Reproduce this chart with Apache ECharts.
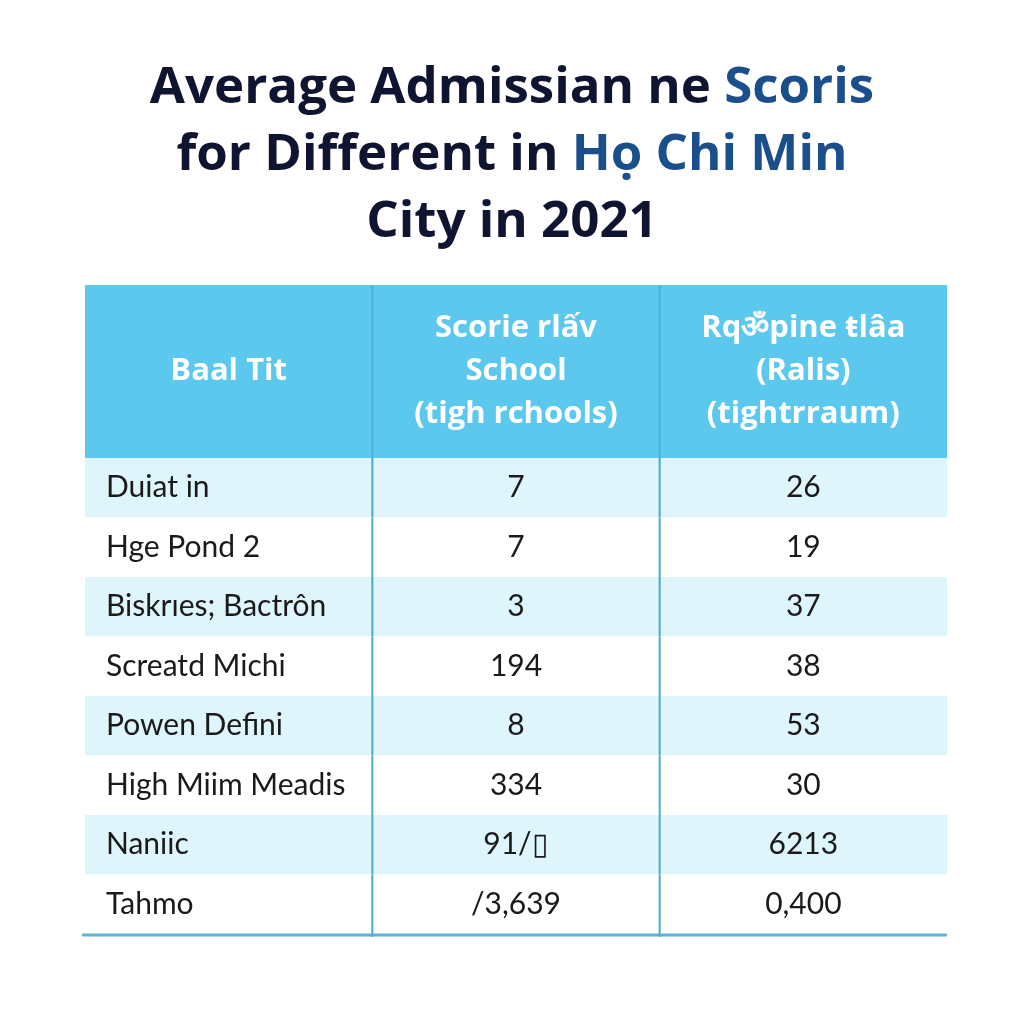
<!DOCTYPE html>
<html>
<head>
<meta charset="utf-8">
<script src="https://cdn.jsdelivr.net/npm/echarts@6/dist/echarts.min.js"></script>
<style>html,body{margin:0;padding:0;background:#fff;}#c{width:1024px;height:1024px;}</style>
</head>
<body>
<div id="c"></div>
<script>
// ---- data ----
var columnHeaders = ['Baal Tit', 'Scorie rlấv\nSchool\n(tigh rchools)', 'Rqॐpine ŧlâa\n(Ralis)\n(tightrraum)'];
var rowNames = ['Duiat in', 'Hge Pond 2', 'Biskrıes; Bactrôn', 'Screatd Michi', 'Powen Defini', 'High Miim Meadis', 'Naniic', 'Tahmo'];
var schoolValues = ['7', '7', '3', '194', '8', '334', '91/▯', '/3,639'];
var rankValues = ['26', '19', '37', '38', '53', '30', '6213', '0,400'];

var FONT = 'Lato, "Open Sans", sans-serif';
var HFONT = '"Open Sans", Lato, sans-serif';
var colKeys = ['c0', 'c1', 'c2'];

// header cells
var headerData = columnHeaders.map(function (t, i) { return [colKeys[i], 'h', t]; });
// body cells
var bodyData = [];
rowNames.forEach(function (name, r) {
  bodyData.push([colKeys[0], name, name, r]);
  bodyData.push([colKeys[1], name, schoolValues[r], r]);
  bodyData.push([colKeys[2], name, rankValues[r], r]);
});

function headerItem(params, api) {
  var c = api.coord([api.value(0), api.value(1)]);
  var s = api.size([1, 1]);
  var x0 = c[0] - s[0] / 2, y0 = c[1] - s[1] / 2;
  var col = params.dataIndex;
  var children = [
    { type: 'rect', shape: { x: x0, y: y0, width: s[0], height: s[1] }, style: { fill: '#5CC8EE' } },
    { type: 'text', style: { text: api.value(2), x: c[0], y: c[1], align: 'center', verticalAlign: 'middle',
      font: 'bold 31px ' + HFONT, fill: '#ffffff', lineHeight: 43 } }
  ];
  if (col > 0) children.push({ type: 'line', shape: { x1: x0, y1: y0, x2: x0, y2: y0 + s[1] }, style: { stroke: '#4AB3DC', lineWidth: 2 } });
  return { type: 'group', children: children };
}

function bodyItem(params, api) {
  var c = api.coord([api.value(0), api.value(1)]);
  var s = api.size([1, 1]);
  var x0 = c[0] - s[0] / 2, y0 = c[1] - s[1] / 2;
  var col = params.dataIndex % 3;
  var row = api.value(3);
  var children = [
    { type: 'rect', shape: { x: x0, y: y0, width: s[0], height: s[1] }, style: { fill: row % 2 === 0 ? '#DDF5FB' : '#ffffff' } }
  ];
  children.push({ type: 'text', style: { text: api.value(2), x: col === 0 ? x0 + 21 : c[0], y: c[1],
    align: col === 0 ? 'left' : 'center', verticalAlign: 'middle', font: '30px ' + FONT, fill: '#1a1a1a' } });
  if (col > 0) children.push({ type: 'line', shape: { x1: x0, y1: y0, x2: x0, y2: y0 + s[1] + (row === 7 ? 3 : 0) }, style: { stroke: '#4BAAC9', lineWidth: 2 } });
  if (row === 7) children.push({ type: 'line', shape: { x1: x0 - (col === 0 ? 3 : 0), y1: y0 + s[1] + 1, x2: x0 + s[0], y2: y0 + s[1] + 1 }, style: { stroke: '#5AB6D8', lineWidth: 3 } });
  return { type: 'group', children: children };
}

var chart = echarts.init(document.getElementById('c'));
chart.setOption({
  backgroundColor: '#ffffff',
  animation: false,
  title: {
    left: 'center', top: 50,
    text: '{a|Average Admissian ne }{b|Scoris}\n{a|for Different in }{b|Họ Chi Min}\n{a|City in 2021}',
    textStyle: {
      lineHeight: 67,
      rich: {
        a: { fontFamily: HFONT, fontWeight: 'bold', fontSize: 51, color: '#0F1431', lineHeight: 67 },
        b: { fontFamily: HFONT, fontWeight: 'bold', fontSize: 51, color: '#1B4F8C', lineHeight: 67 }
      }
    }
  },
  grid: [
    { left: 85, right: 77, top: 285, height: 173 },
    { left: 85, right: 77, top: 458, height: 476 }
  ],
  xAxis: [
    { type: 'category', gridIndex: 0, data: colKeys, show: false },
    { type: 'category', gridIndex: 1, data: colKeys, show: false }
  ],
  yAxis: [
    { type: 'category', gridIndex: 0, data: ['h'], show: false },
    { type: 'category', gridIndex: 1, data: rowNames, inverse: true, show: false }
  ],
  series: [
    { type: 'custom', xAxisIndex: 0, yAxisIndex: 0, data: headerData, renderItem: headerItem, silent: true },
    { type: 'custom', xAxisIndex: 1, yAxisIndex: 1, data: bodyData, renderItem: bodyItem, silent: true }
  ]
});
</script>
</body>
</html>
